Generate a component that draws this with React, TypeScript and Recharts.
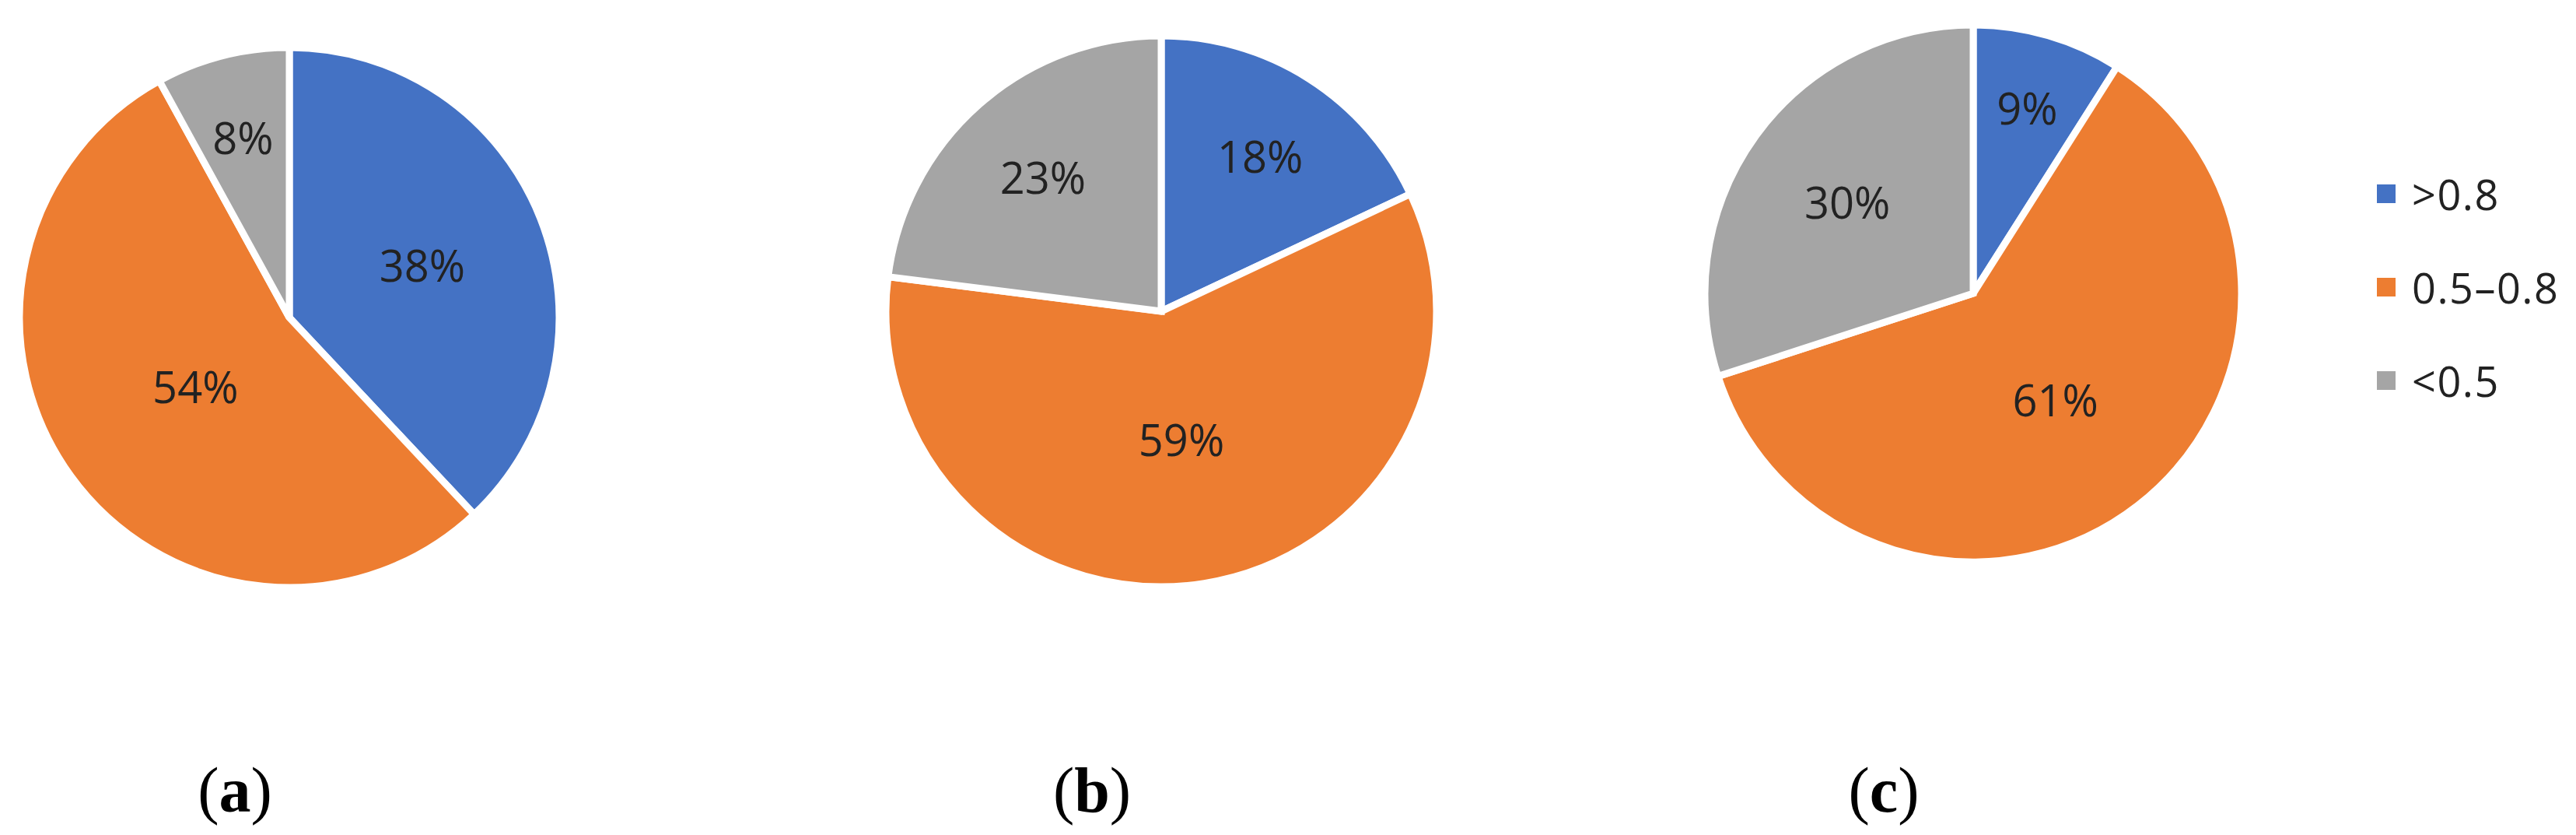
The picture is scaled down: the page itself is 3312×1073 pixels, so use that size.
import { Pie, PieChart, Cell } from "recharts";

const categories = [">0.8", "0.5–0.8", "<0.5"];
const shareA = [38, 54, 8];
const shareB = [18, 59, 23];
const shareC = [9, 61, 30];
const panelTags = ["a", "b", "c"];

const colors = ["#4472C4", "#ED7D31", "#A5A5A5"];
const RADIAN = Math.PI / 180;

// where Excel dropped each percentage label, as a fraction of the radius
const labelDepth = [
  [0.53, 0.43, 0.69],
  [0.67, 0.47, 0.65],
  [0.72, 0.5, 0.58],
];

const pies = [
  { values: shareA, cx: 367, cy: 403, r: 347 },
  { values: shareB, cx: 1488, cy: 395, r: 354 },
  { values: shareC, cx: 2532, cy: 372, r: 345 },
];

const tagX = [302, 1404, 2422];

function pctLabel(depth: number[]) {
  return (p: any) => {
    const r = p.outerRadius * depth[p.index];
    const x = p.cx + r * Math.cos(-p.midAngle * RADIAN);
    const y = p.cy + r * Math.sin(-p.midAngle * RADIAN);
    return (
      <text
        x={x}
        y={y}
        textAnchor="middle"
        dominantBaseline="central"
        fill="#222"
        fontSize={56}
        fontFamily="'Open Sans', sans-serif"
      >
        {p.value}%
      </text>
    );
  };
}

export default function App() {
  return (
    <div style={{ position: "absolute", left: 0, top: 0, width: 3312, height: 1073, background: "#fff" }}>
      <PieChart width={3312} height={1073}>
        {pies.map((pie, i) => {
          const rows = categories.map((name, k) => ({ name, value: pie.values[k] }));
          return (
            <Pie
              key={i}
              data={rows}
              dataKey="value"
              nameKey="name"
              cx={pie.cx}
              cy={pie.cy}
              outerRadius={pie.r}
              startAngle={90}
              endAngle={-270}
              stroke="#ffffff"
              strokeWidth={9}
              labelLine={false}
              label={pctLabel(labelDepth[i])}
              isAnimationActive={false}
            >
              {rows.map((_, k) => (
                <Cell key={k} fill={colors[k]} />
              ))}
            </Pie>
          );
        })}
      </PieChart>

      {categories.map((c, k) => (
        <div
          key={c}
          style={{
            position: "absolute",
            left: 3056,
            top: 249 + k * 120 - 35,
            height: 70,
            display: "flex",
            alignItems: "center",
            fontFamily: "'Open Sans', sans-serif",
            fontSize: 54,
            letterSpacing: 1.5,
            color: "#222",
            whiteSpace: "nowrap",
          }}
        >
          <span style={{ display: "inline-block", width: 24, height: 24, background: colors[k], marginRight: 21 }} />
          {c}
        </div>
      ))}

      {panelTags.map((t, i) => (
        <div
          key={t}
          style={{
            position: "absolute",
            left: tagX[i] - 100,
            width: 200,
            top: 966,
            textAlign: "center",
            fontFamily: "'Liberation Serif', 'Times New Roman', serif",
            fontSize: 82,
            lineHeight: "100px",
            color: "#000",
          }}
        >
          (<b>{t}</b>)
        </div>
      ))}
    </div>
  );
}
